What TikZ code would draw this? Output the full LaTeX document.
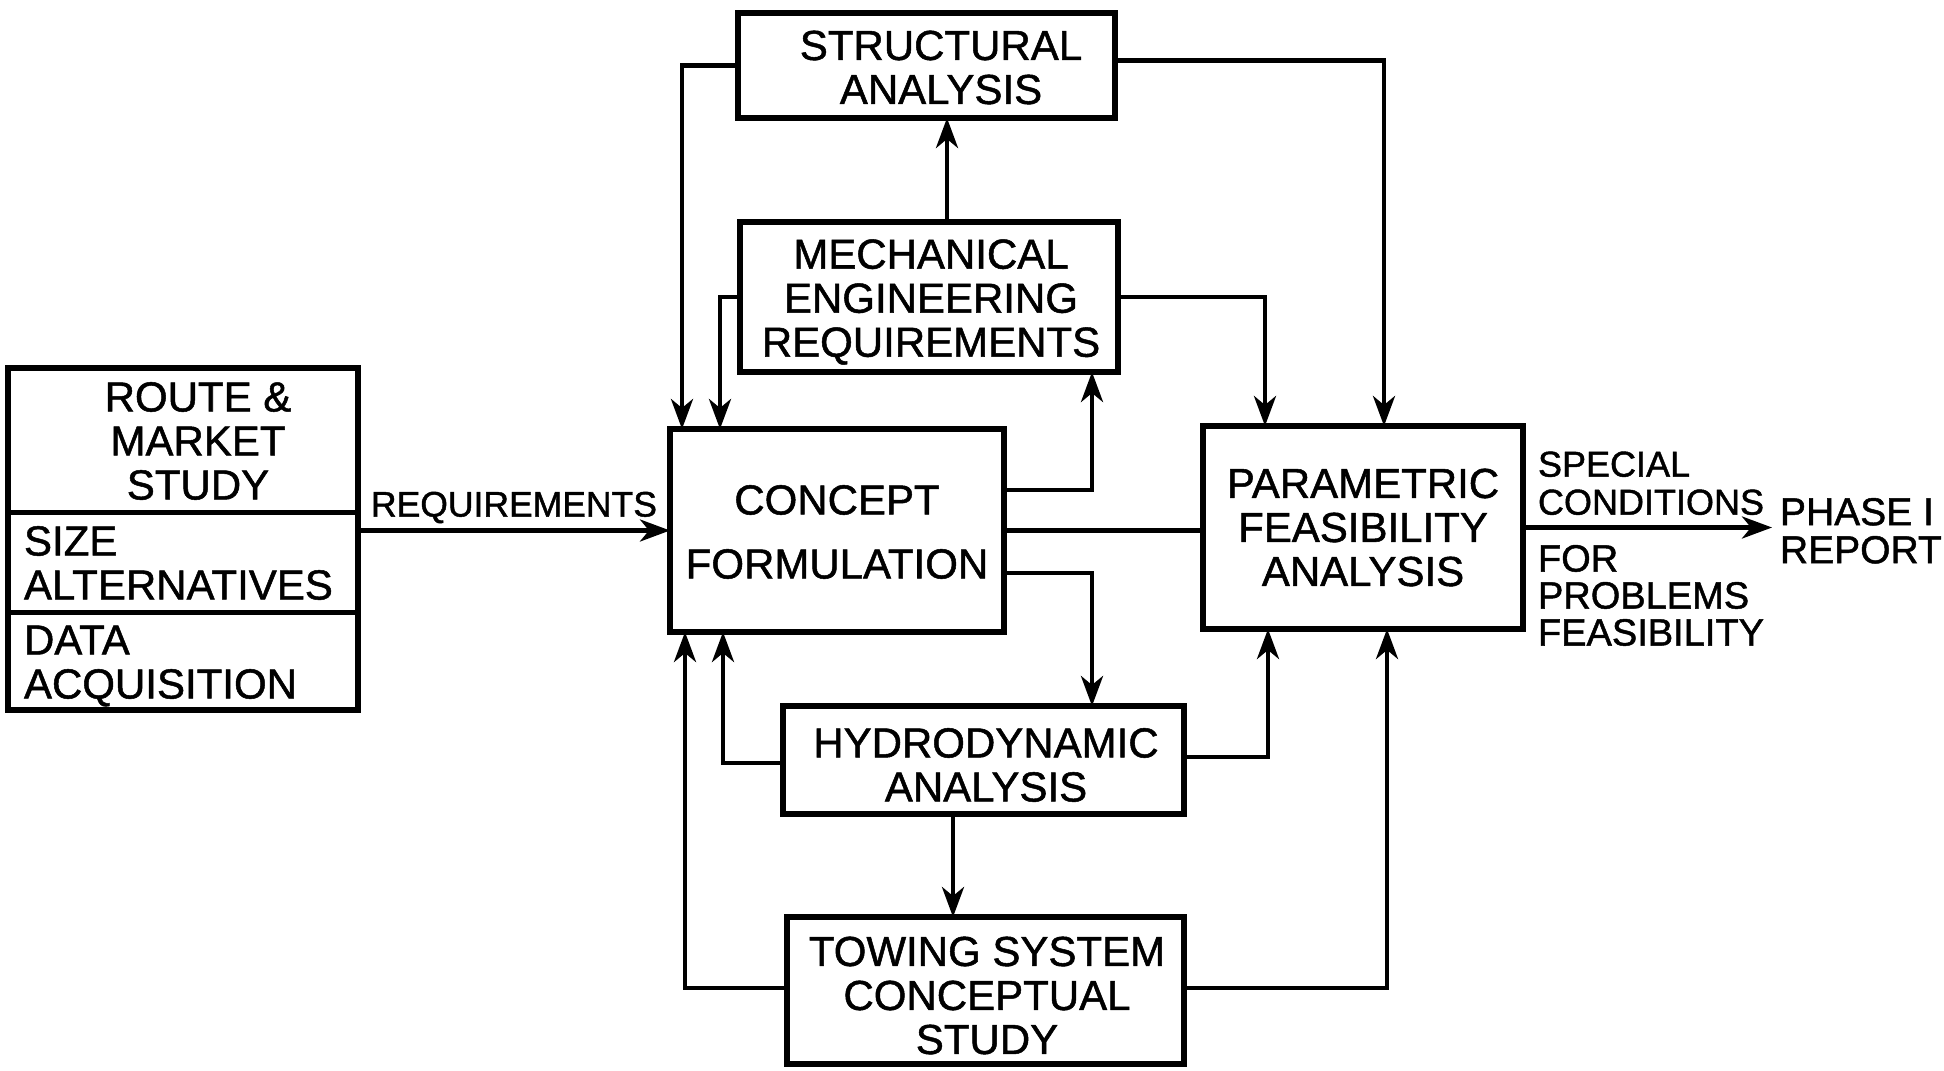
\documentclass[tikz,border=0pt]{standalone}
\usepackage{fontspec}
\setmainfont{Liberation Sans}
\newfontfamily\lettering[FakeBold=1.2]{Liberation Sans}
\usetikzlibrary{arrows.meta,calc}
\newcommand\bigtext{\lettering\fontsize{42}{44}\selectfont}
\newcommand\smalltext{\lettering\fontsize{36}{38}\selectfont}
\begin{document}
\begin{tikzpicture}[x=1pt,y=-1pt,
  box/.style={draw, line width=5.5pt, inner sep=0pt, outer sep=0pt},
  txt/.style={inner sep=0pt, outer sep=0pt, font=\bigtext, align=center},
  lbl/.style={inner sep=0pt, outer sep=0pt, font=\smalltext, align=left},
  wire/.style={line width=4.5pt, line join=miter},
  arr/.style={wire, -{Stealth[length=30pt,width=22pt,inset=9pt]}}]
\fill[white] (0,0) rectangle (1944,1071);
\path[use as bounding box] (0,0) rectangle (1944,1071);

% boxes
\node[box, minimum width=350pt, minimum height=342pt] (route) at (183,539) {};
\node[box, minimum width=377pt, minimum height=105pt] (struct) at (926.5,65.5) {};
\node[box, minimum width=378pt, minimum height=150pt] (mech) at (929,297) {};
\node[box, minimum width=334pt, minimum height=203pt] (concept) at (837,530.5) {};
\node[box, minimum width=320pt, minimum height=203pt] (param) at (1363,527.5) {};
\node[box, minimum width=401pt, minimum height=108pt] (hydro) at (983.5,760) {};
\node[box, minimum width=397pt, minimum height=147pt] (towing) at (985.5,990.5) {};

% box texts
\node[txt] (structT) at (941,67.5) {STRUCTURAL\\ANALYSIS};
\node[txt] (mechT) at (931,302) {MECHANICAL\\ENGINEERING\\REQUIREMENTS};
\node[txt] (conceptT) at (837,532) {CONCEPT\\[20pt]FORMULATION};
\node[txt] (paramT) at (1363,527.5) {PARAMETRIC\\FEASIBILITY\\ANALYSIS};
\node[txt] (hydroT) at (986,765) {HYDRODYNAMIC\\ANALYSIS};
\node[txt] (towingT) at (987,995.5) {TOWING SYSTEM\\CONCEPTUAL\\STUDY};

% route box contents
\node[txt] (routeT) at (198,441) {ROUTE \&\\MARKET\\STUDY};
\node[txt, align=left, anchor=west] (sizeT) at (24,563) {SIZE\\ALTERNATIVES};
\node[txt, align=left, anchor=west] (dataT) at (24,666) {DATA\\ACQUISITION};
\draw[line width=5pt] ([yshift=-144pt]route.north west) -- ([yshift=-144pt]route.north east);
\draw[line width=5pt] ([yshift=-244pt]route.north west) -- ([yshift=-244pt]route.north east);

% labels
\node[lbl, anchor=south west] (spec) at (1538,515) {SPECIAL\\CONDITIONS};
\node[lbl, anchor=north west, font=\lettering\fontsize{38}{37}\selectfont] (prob) at (1538,545) {FOR\\PROBLEMS\\FEASIBILITY};
\node[lbl, anchor=north west, font=\lettering\fontsize{39}{38}\selectfont] (report) at (1780,498) {PHASE I\\REPORT};

% connection points
\coordinate (cA) at ([xshift=12pt]concept.north west);
\coordinate (cB) at ([xshift=50pt]concept.north west);
\coordinate (cC) at ([xshift=15pt]concept.south west);
\coordinate (cD) at ([xshift=53pt]concept.south west);
\coordinate (cE) at ([yshift=40.5pt]concept.east);
\coordinate (cF) at ([yshift=-42.5pt]concept.east);
\coordinate (pA) at ([xshift=62pt]param.north west);
\coordinate (pB) at ([xshift=181pt]param.north west);
\coordinate (pC) at ([xshift=65pt]param.south west);
\coordinate (pD) at ([xshift=184pt]param.south west);
\coordinate (sR) at ([yshift=5pt]struct.east);
\coordinate (mB) at ([xshift=163pt]mech.south);
\coordinate (mT) at ([xshift=18pt]mech.north);
\coordinate (hT) at ([xshift=108.5pt]hydro.north);
\coordinate (hB) at ([xshift=-30.5pt]hydro.south);
\coordinate (hL) at ([yshift=-3pt]hydro.west);
\coordinate (hR) at ([yshift=3pt]hydro.east);
\coordinate (tL) at ([yshift=2.5pt]towing.west);
\coordinate (tR) at ([yshift=2.5pt]towing.east);

% connectors
\draw[arr] (concept.west -| route.east) -- node[midway, above=5pt, inner sep=0pt, font=\lettering\fontsize{35.5}{38}\selectfont] (reqT) {REQUIREMENTS} (concept.west);
\draw[arr] (struct.west) -| (cA);
\draw[arr] (mech.west) -| (cB);
\draw[arr] (mT) -- (mT |- struct.south);
\draw[arr] (sR) -| (pB);
\draw[arr] (mech.east) -| (pA);
\draw[arr] (cE) -| (mB);
\draw[wire] (concept.east) -- (concept.east -| param.west);
\draw[arr] (cF) -| (hT);
\draw[arr] (hL) -| (cD);
\draw[arr] (tL) -| (cC);
\draw[arr] (hR) -| (pC);
\draw[arr] (tR) -| (pD);
\draw[arr] (hB) -- (hB |- towing.north);
\draw[arr, shorten >=8pt] (param.east) -- (param.east -| report.west);
\end{tikzpicture}
\end{document}
